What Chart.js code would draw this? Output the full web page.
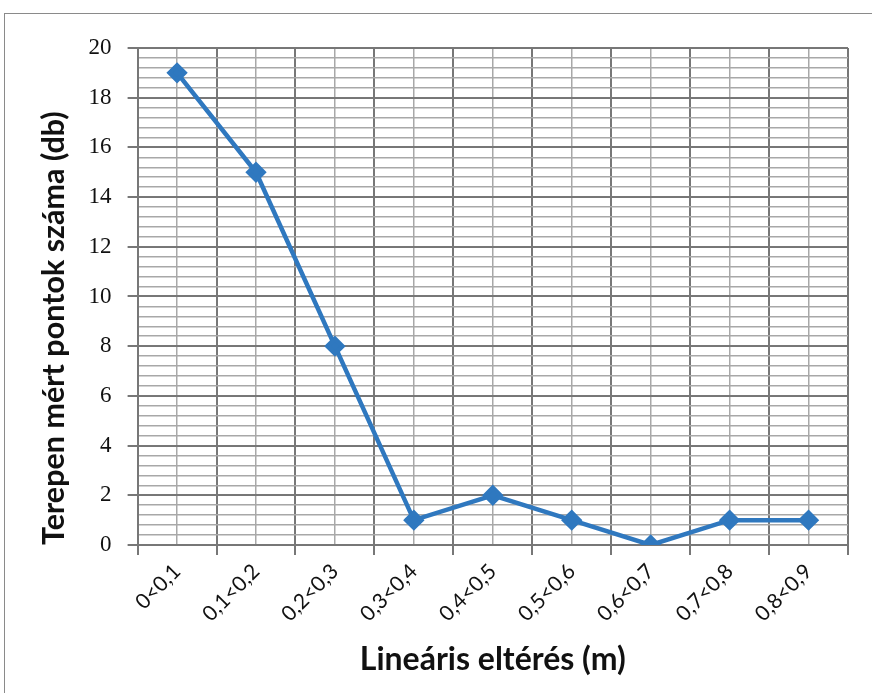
<!DOCTYPE html>
<html><head><meta charset="utf-8">
<script src="https://cdn.jsdelivr.net/npm/chart.js@4/dist/chart.umd.min.js"></script>
<style>
html,body{margin:0;padding:0;background:#fff;}
#wrap{position:absolute;left:0;top:0;width:872px;height:693px;}
#frame{position:absolute;left:4px;top:13px;width:880px;height:700px;border-left:1.5px solid #8a8a8a;border-top:1.5px solid #8a8a8a;}
canvas{position:absolute;left:0;top:0;}
</style></head>
<body>
<div id="wrap"><div id="frame"></div><canvas id="c" width="872" height="693"></canvas></div>
<script>
const categories = ["0<0,1","0,1<0,2","0,2<0,3","0,3<0,4","0,4<0,5","0,5<0,6","0,6<0,7","0,7<0,8","0,8<0,9"];
const counts = [19, 15, 8, 1, 2, 1, 0, 1, 1];
const yTitle = "Terepen mért pontok száma (db)";
const xTitle = "Lineáris eltérés (m)";
const blue = "#2f78bf";
const isMajor = v => Math.abs(v/2 - Math.round(v/2)) < 1e-6;

new Chart(document.getElementById('c'), {
  type: 'line',
  data: { labels: categories, datasets: [{
    data: counts, borderColor: blue, backgroundColor: blue, borderWidth: 4.5,
    pointStyle: 'rectRot', pointRadius: 7.5, pointHoverRadius: 7.5, tension: 0, xAxisID: 'x', yAxisID: 'y'
  }]},
  options: {
    responsive: false, animation: false, devicePixelRatio: 1,
    layout: { padding: { left: 32, right: 24, top: 48, bottom: 10 } },
    plugins: { legend: { display: false }, tooltip: { enabled: false } },
    scales: {
      x: {
        type: 'category', offset: true,
        grid: { offset: true, color: '#777', lineWidth: 2, tickLength: 10, tickColor: '#777', drawOnChartArea: true },
        border: { color: '#777', width: 2 },
        ticks: { minRotation: 45, maxRotation: 45, color: '#111', font: { family: 'Lato', size: 21 }, padding: 4 },
        title: { display: true, text: xTitle, color: '#111', font: { family: 'Lato', size: 32, weight: 'bold' }, padding: { top: 10 } }
      },
      x2: {
        type: 'category', offset: true, position: 'bottom', display: true,
        grid: { offset: false, color: '#a8a8a8', lineWidth: 1.5, drawTicks: false },
        border: { display: false },
        ticks: { display: false }
      },
      y: {
        min: 0, max: 20,
        ticks: { stepSize: 0.4, autoSkip: false, color: '#111', font: { family: 'Liberation Serif', size: 23 }, padding: 16,
          callback: v => isMajor(v) ? String(Math.round(v)) : '' },
        grid: { color: c => isMajor(c.tick.value) ? '#777' : '#a8a8a8', lineWidth: c => isMajor(c.tick.value) ? 2 : 1.5,
          tickLength: 10, tickColor: c => isMajor(c.tick.value) ? '#777' : 'rgba(0,0,0,0)' },
        border: { color: '#777', width: 2 },
        title: { display: true, text: yTitle, align: 'start', color: '#111', font: { family: 'Lato', size: 30.5, weight: 'bold' }, padding: { bottom: 0 } }
      }
    }
  }
});
</script>
</body></html>
